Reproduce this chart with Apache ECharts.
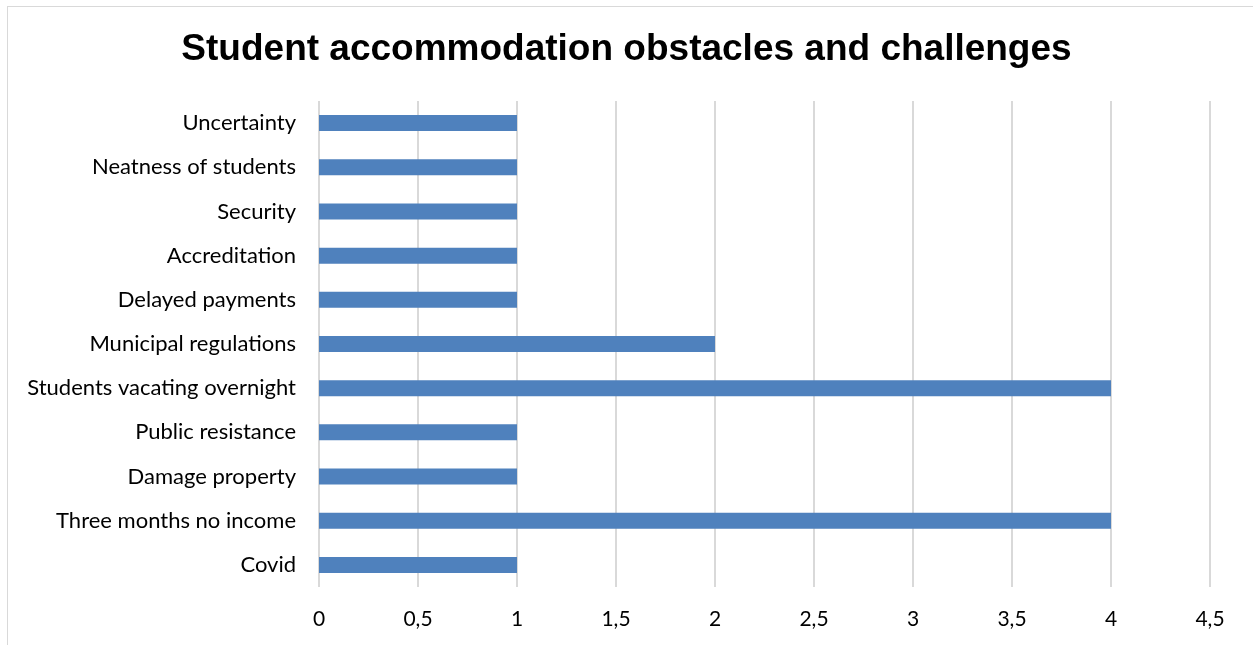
<!DOCTYPE html>
<html>
<head>
<meta charset="utf-8">
<script src="https://cdn.jsdelivr.net/npm/echarts@6/dist/echarts.min.js"></script>
<style>
  html, body { margin: 0; padding: 0; background: #fff; }
  #frame { position: absolute; left: 7px; top: 6px; width: 1260px; height: 660px; border: 1px solid #d9d9d9; box-sizing: border-box; }
  #chart { position: absolute; left: 0; top: 0; width: 1253px; height: 645px; }
</style>
</head>
<body>
<div id="frame"></div>
<div id="chart"></div>
<script>
// Categories listed bottom to top (ECharts category axis starts at the bottom)
const categories = [
  'Covid',
  'Three months no income',
  'Damage property',
  'Public resistance',
  'Students vacating overnight',
  'Municipal regulations',
  'Delayed payments',
  'Accreditation',
  'Security',
  'Neatness of students',
  'Uncertainty'
];
const counts = [1, 4, 1, 1, 4, 2, 1, 1, 1, 1, 1];
const titleText = 'Student accommodation obstacles and challenges';

const chart = echarts.init(document.getElementById('chart'), null, { renderer: 'canvas' });
const labelFont = 'Lato, "Open Sans", sans-serif';

chart.setOption({
  animation: false,
  backgroundColor: 'transparent',
  title: {
    text: titleText,
    left: 'center',
    top: 26,
    textStyle: {
      fontFamily: '"Liberation Sans", Arial, sans-serif',
      fontWeight: 'bold',
      fontSize: 37,
      color: '#000'
    }
  },
  grid: { left: 319, right: 43, top: 101, bottom: 58, containLabel: false },
  xAxis: {
    type: 'value',
    min: 0,
    max: 4.5,
    interval: 0.5,
    axisLine: { show: false },
    axisTick: { show: false },
    splitLine: { show: true, lineStyle: { color: '#d9d9d9', width: 2 } },
    axisLabel: {
      margin: 22,
      fontFamily: labelFont,
      fontSize: 21,
      color: '#000',
      formatter: v => String(v).replace('.', ',')
    }
  },
  yAxis: {
    type: 'category',
    data: categories,
    axisLine: { show: false },
    axisTick: { show: false },
    splitLine: { show: false },
    axisLabel: {
      margin: 23,
      fontFamily: labelFont,
      fontSize: 22,
      color: '#000'
    }
  },
  series: [{
    type: 'bar',
    data: counts,
    barWidth: 16,
    itemStyle: { color: '#4f81bd' }
  }]
});
</script>
</body>
</html>
